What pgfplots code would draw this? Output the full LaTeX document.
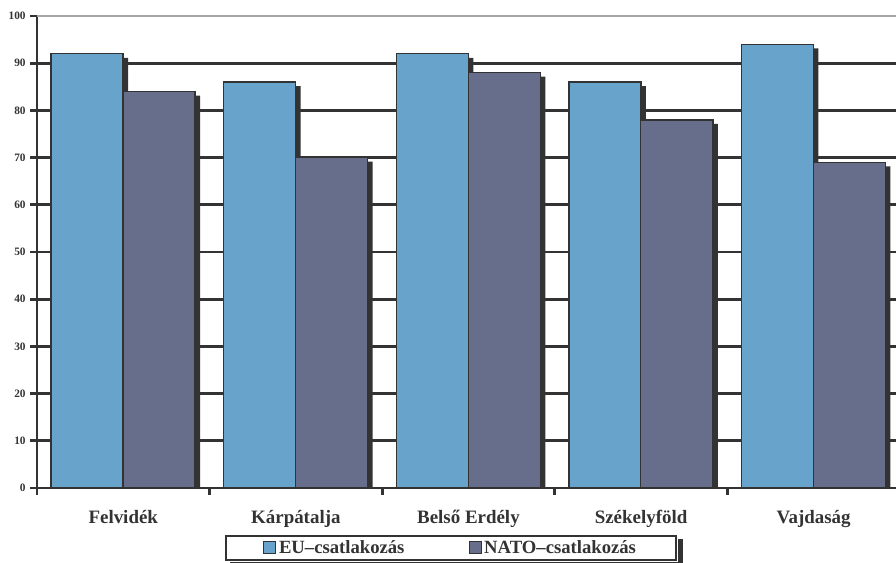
\documentclass[border=0pt]{standalone}
\usepackage{pgfplots}
\pgfplotsset{compat=1.18}
\usepackage{fontspec}
\setmainfont{Liberation Serif}
\definecolor{eu}{HTML}{67A3CB}
\definecolor{nato}{HTML}{666E8C}
\definecolor{dk}{HTML}{333333}
\begin{document}
\begin{tikzpicture}
\begin{axis}[
  name=ax, scale only axis, width=647.25pt, height=354pt,
  xmin=-0.5, xmax=4.5, ymin=0, ymax=100,
  axis x line*=bottom, axis y line*=left,
  axis line style={dk, line width=2.2pt, -},
  ytick={0,10,...,90}, extra y ticks={100},
  ymajorgrids, grid style={dk, line width=2pt},
  extra y tick style={grid style={gray!70, line width=1.6pt}},
  tick style={dk, line width=2pt},
  tick align=outside, major tick length=5pt,
  xtick={-0.5,0.5,...,4.5},
  xticklabels={Felvidék,Kárpátalja,Belső Erdély,Székelyföld,Vajdaság,{}},
  xticklabel style={xshift=64.6875pt, yshift=-8pt, font=\bfseries\fontsize{14.2}{16}\selectfont, text=dk},
  yticklabel style={font=\bfseries\fontsize{8.5}{9.5}\selectfont, text=dk},
  /pgf/number format/assume math mode=true,
  ybar, bar width=0.4174,
  legend columns=2,
  legend style={name=leg, at={(0.2178,0)}, anchor=north west, yshift=-35pt,
    draw=dk, line width=1.5pt, font=\bfseries\fontsize{14}{15}\selectfont, text=dk,
    fill=white,
    inner xsep=28pt, inner ysep=1.5pt,
    /tikz/every even column/.append style={column sep=46pt}},
  legend image code/.code={\draw[#1, draw=dk, line width=0.8pt] (0pt,-4.5pt) rectangle (9pt,4.5pt);},
]
\addplot[forget plot, fill=dk, draw=none, bar shift=-0.181] coordinates {(0,91.15) (1,85.15) (2,91.15) (3,85.15) (4,93.15)};
\addplot[forget plot, fill=dk, draw=none, bar shift=0.236] coordinates {(0,83.15) (1,69.15) (2,87.15) (3,77.15) (4,68.15)};
\addplot[fill=eu, draw=dk, line width=1pt, bar shift=-0.21] coordinates {(0,92) (1,86) (2,92) (3,86) (4,94)};
\addplot[fill=nato, draw=dk, line width=1pt, bar shift=0.207] coordinates {(0,84) (1,70) (2,88) (3,78) (4,69)};
\legend{EU–csatlakozás, NATO–csatlakozás}
\end{axis}
\fill[dk] ([shift={(0.75pt,-3pt)}]leg.north east) rectangle ([shift={(4.25pt,-3.25pt)}]leg.south east);
\fill[dk] ([shift={(4pt,-0.75pt)}]leg.south west) rectangle ([shift={(4.25pt,-3.25pt)}]leg.south east);
\pgfresetboundingbox
\path[use as bounding box] (ax.south west) ++(-27.75pt,-56.25pt) rectangle ++(672pt,422.25pt);
\end{tikzpicture}
\end{document}
